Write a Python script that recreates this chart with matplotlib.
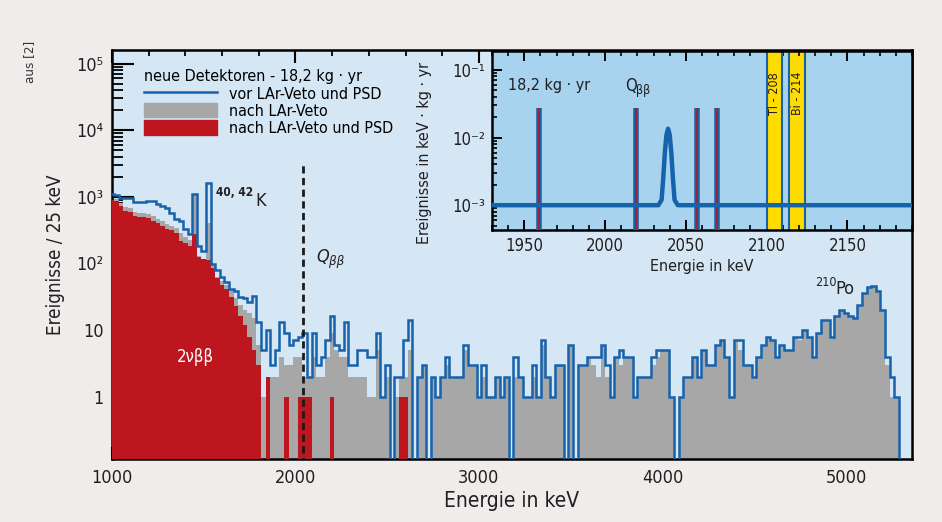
import numpy as np
import matplotlib
matplotlib.use('Agg')
import matplotlib.pyplot as plt
from matplotlib import font_manager
from matplotlib.lines import Line2D
from matplotlib.patches import Patch
from matplotlib.ticker import FixedLocator, MultipleLocator, LogLocator, NullFormatter

# pick a narrow / condensed face if one is installed (reference uses a condensed font)
font_name, font_stretch = 'DejaVu Sans', 'normal'
for key in ['LiberationSansNarrow-Regular', 'DejaVuSansCondensed.', 'RobotoCondensed-Regular',
            'OpenSans_Condensed-Regular', 'NotoSans-Condensed']:
    hits = [f for f in font_manager.fontManager.ttflist if key in f.fname]
    if hits:
        font_name, font_stretch = hits[0].name, hits[0].stretch
        break
plt.rcParams['font.family'] = [font_name, 'DejaVu Sans']
plt.rcParams['font.stretch'] = font_stretch

# ---- data (counts / 25 keV) ----
bin_center = np.arange(1000, 5276, 25)

vor_veto_psd = [
    1110, 1050, 970, 970, 950, 830, 830, 830, 860, 860,
    790, 720, 690, 580, 460, 430, 325, 280, 1110, 183,
    153, 1620, 97, 80, 63, 52, 41, 38, 31, 30,
    26, 33, 13, 5, 10, 3, 5, 13, 9, 6,
    7, 8, 9, 2, 9, 3, 4, 7, 16, 6,
    5, 13, 3, 3, 5, 5, 4, 4, 9, 1,
    3, 0, 2, 2, 7, 14, 0, 2, 3, 0,
    2, 1, 2, 4, 2, 2, 2, 6, 3, 3,
    1, 3, 1, 1, 2, 1, 2, 0, 4, 2,
    1, 1, 3, 1, 7, 2, 1, 3, 3, 0,
    6, 0, 3, 3, 4, 4, 4, 6, 3, 1,
    4, 5, 4, 4, 1, 2, 2, 2, 4, 5,
    5, 5, 1, 0, 1, 2, 2, 4, 2, 5,
    3, 3, 6, 7, 4, 1, 7, 7, 3, 3,
    2, 4, 6, 8, 7, 4, 6, 5, 5, 8,
    8, 10, 8, 4, 9, 14, 14, 8, 16, 20,
    18, 16, 15, 24, 36, 44, 46, 38, 20, 4,
    2, 1]

nach_veto = [
    960, 940, 800, 700, 690, 600, 580, 570, 560, 520,
    470, 430, 390, 370, 340, 290, 250, 225, 1050, 130,
    118, 410, 96, 63, 55, 48, 40, 30, 24, 20,
    18, 15, 6, 1, 2, 2, 2, 4, 3, 3,
    4, 4, 2, 2, 4, 2, 2, 4, 9, 5,
    4, 4, 2, 2, 2, 2, 1, 1, 5, 1,
    2, 0, 1, 2, 2, 5, 0, 2, 3, 0,
    2, 1, 2, 3, 2, 2, 2, 5, 3, 3,
    1, 2, 1, 1, 2, 1, 2, 0, 2, 2,
    1, 1, 2, 1, 6, 2, 1, 3, 3, 0,
    6, 0, 3, 3, 4, 3, 2, 6, 2, 1,
    4, 3, 4, 4, 1, 2, 2, 2, 3, 4,
    5, 5, 1, 0, 1, 2, 2, 4, 2, 5,
    3, 3, 6, 7, 4, 1, 7, 5, 3, 3,
    2, 4, 6, 8, 7, 4, 6, 5, 5, 8,
    7, 10, 8, 4, 9, 14, 14, 8, 16, 20,
    18, 16, 15, 24, 36, 44, 46, 38, 20, 3,
    1, 1]

nach_veto_psd = [
    890, 860, 720, 620, 590, 520, 500, 490, 480, 440,
    400, 370, 330, 320, 290, 220, 200, 180, 280, 123,
    115, 112, 86, 61, 48, 41, 31, 23, 16, 12,
    8, 5, 3, 0, 2, 0, 0, 0, 1, 0,
    0, 1, 1, 1, 0, 0, 0, 0, 1, 0,
    0, 0, 0, 0, 0, 0, 0, 0, 0, 0,
    0, 0, 0, 1, 1] + [0] * 107

# inset: events in the window and the signal curve
ereignisse_inset = [1959, 2019, 2057, 2069]
kurve_e = [1930, 2033, 2035, 2036, 2037, 2038, 2039, 2040, 2041, 2042, 2043, 2045, 2190]
kurve_v = [1e-3, 1e-3, 1.2e-3, 2.5e-3, 6e-3, 1.1e-2, 1.35e-2, 1.1e-2, 6e-3, 2.5e-3, 1.2e-3, 1e-3, 1e-3]
tl208 = (2100, 2109.5)
bi214 = (2114, 2124)
q_bb = 2039

# ---- colours ----
c_fig = '#efeceb'
c_main = '#d5e6f4'
c_inset = '#a7d3ef'
c_blue = '#1662ab'
c_gray = '#a7a7a7'
c_red = '#be161e'
c_yellow = '#ffdc00'
c_text = '#231f20'

floor = 0.01
edges = np.append(bin_center - 12.5, bin_center[-1] + 12.5)

def clip(v):
    v = np.asarray(v, dtype=float)
    return np.where(v > 0, v, floor)

fig = plt.figure(figsize=(9.42, 5.22), dpi=100, facecolor=c_fig)

# ---- main axes ----
ax = fig.add_axes([112 / 942, 63 / 522, 800 / 942, 409 / 522])
ax.set_facecolor(c_main)
ax.stairs(clip(nach_veto), edges, baseline=floor, fill=True, color=c_gray, zorder=2)
ax.stairs(clip(nach_veto_psd), edges, baseline=floor, fill=True, color=c_red, zorder=3)
ax.stairs(clip(vor_veto_psd), edges, baseline=floor, color=c_blue, lw=1.8, zorder=4)
ax.plot([q_bb, q_bb], [floor, 3070], ls=(0, (2.6, 1.6)), color='#1a1a1a', lw=2, zorder=5)

ax.set_yscale('log')
ax.set_xlim(1000, 5360)
ax.set_ylim(0.116, 1.6e5)
ax.xaxis.set_major_locator(MultipleLocator(1000))
ax.xaxis.set_minor_locator(MultipleLocator(200))
ax.yaxis.set_major_locator(FixedLocator([1, 10, 100, 1e3, 1e4, 1e5]))
ax.set_yticklabels(['1', '10', '10²', '10³', '10⁴', '10⁵'])
ax.yaxis.set_minor_locator(LogLocator(base=10, subs=np.arange(2, 10), numticks=20))
ax.yaxis.set_minor_formatter(NullFormatter())
ax.tick_params(axis='x', which='major', direction='in', length=9, width=1.5, top=True,
               labelsize=13, pad=7, labelcolor=c_text)
ax.tick_params(axis='x', which='minor', direction='in', length=4.5, width=1.3, top=True)
ax.tick_params(axis='y', which='major', direction='in', length=16, width=1.5, right=False,
               labelsize=13, pad=6, labelcolor=c_text)
ax.tick_params(axis='y', which='minor', direction='in', length=8, width=1.3, right=False)
for s in ax.spines.values():
    s.set_linewidth(1.8)
ax.set_xlabel('Energie in keV', fontsize=15, labelpad=3, color=c_text)
ax.set_ylabel('Ereignisse / 25 keV', fontsize=13.5, labelpad=8, color=c_text)

handles = [Line2D([], [], color=c_blue, lw=1.8),
           Patch(color=c_gray), Patch(color=c_red)]
leg = ax.legend(handles, ['vor LAr-Veto und PSD', 'nach LAr-Veto', 'nach LAr-Veto und PSD'],
                title='neue Detektoren - 18,2 kg · yr', loc='upper left',
                bbox_to_anchor=(0.026, 0.98), frameon=False, fontsize=11.5,
                title_fontsize=11.5, handlelength=4.6, handleheight=1.0,
                labelspacing=0.1, handletextpad=0.7, alignment='left', borderaxespad=0.3)

ax.text(1768, 1150, '40, 42', fontsize=8.5, fontweight='bold', ha='right', va='center',
        color=c_text, zorder=6)
ax.text(1808, 870, 'K', fontsize=13, ha='center', va='center', color=c_text, zorder=6)
ax.text(2150, 125, 'Q', fontsize=13, style='italic', ha='center', va='center', color=c_text, zorder=6)
ax.text(2222, 106, 'ββ', fontsize=9.5, style='italic', ha='center', va='center', color=c_text, zorder=6)
ax.text(1454, 3.9, '2νββ', fontsize=12, color='white', ha='center', va='center', zorder=6)
ax.text(4893, 52, '210', fontsize=9, ha='center', va='center', color=c_text, zorder=6)
ax.text(4995, 41, 'Po', fontsize=13, ha='center', va='center', color=c_text, zorder=6)

# ---- inset ----
ax2 = fig.add_axes([492 / 942, 292 / 522, 420 / 942, 179 / 522])
ax2.set_facecolor(c_inset)
ax2.set_yscale('log')
ax2.set_xlim(1930, 2190)
ax2.set_ylim(4.3e-4, 0.19)
for lo, hi in (tl208, bi214):
    ax2.axvspan(lo, hi, color=c_yellow, zorder=1)
    ax2.axvline(lo, color=c_blue, lw=1.5, zorder=2)
    ax2.axvline(hi, color=c_blue, lw=1.5, zorder=2)
for e in ereignisse_inset:
    ax2.plot([e, e], [4.3e-4, 0.027], color=c_blue, lw=4, solid_capstyle='butt', zorder=3)
    ax2.plot([e, e], [4.3e-4, 0.027], color=c_red, lw=1.2, solid_capstyle='butt', zorder=4)
ax2.plot(kurve_e, kurve_v, color=c_blue, lw=3.2, zorder=5)

ax2.xaxis.set_major_locator(MultipleLocator(50))
ax2.xaxis.set_minor_locator(MultipleLocator(10))
ax2.yaxis.set_major_locator(FixedLocator([1e-3, 1e-2, 1e-1]))
ax2.set_yticklabels(['10⁻³', '10⁻²', '10⁻¹'])
ax2.yaxis.set_minor_locator(LogLocator(base=10, subs=np.arange(2, 10), numticks=20))
ax2.yaxis.set_minor_formatter(NullFormatter())
ax2.tick_params(axis='both', which='major', direction='in', length=7, width=1.4,
                top=True, right=False, labelsize=12, pad=5, labelcolor=c_text)
ax2.tick_params(axis='both', which='minor', direction='in', length=3.5, width=1.2,
                top=True, right=False)
for s in ax2.spines.values():
    s.set_linewidth(1.8)
ax2.set_xlabel('Energie in keV', fontsize=11.5, labelpad=3, color=c_text)
ax2.set_ylabel('Ereignisse in keV · kg · yr', fontsize=11.5, color=c_text)
ax2.yaxis.set_label_coords(-0.143, 0.43)

ax2.text(1965.4, 0.059, '18,2 kg · yr', fontsize=11.5, ha='center', va='center', color=c_text, zorder=6)
ax2.text(2015.8, 0.058, 'Q', fontsize=12, ha='center', va='center', color=c_text, zorder=6)
ax2.text(2023.5, 0.049, 'ββ', fontsize=9, ha='center', va='center', color=c_text, zorder=6)
ax2.text(2104.8, 0.045, 'Tl - 208', fontsize=9, rotation=90, ha='center', va='center',
         color=c_text, zorder=6)
ax2.text(2119, 0.045, 'Bi - 214', fontsize=9, rotation=90, ha='center', va='center',
         color=c_text, zorder=6)

fig.text(30 / 942, 1 - 62 / 522, 'aus [2]', rotation=90, fontsize=9.5, color='#333333',
         ha='center', va='center')

fig.savefig('out.png', dpi=100, facecolor=c_fig)
